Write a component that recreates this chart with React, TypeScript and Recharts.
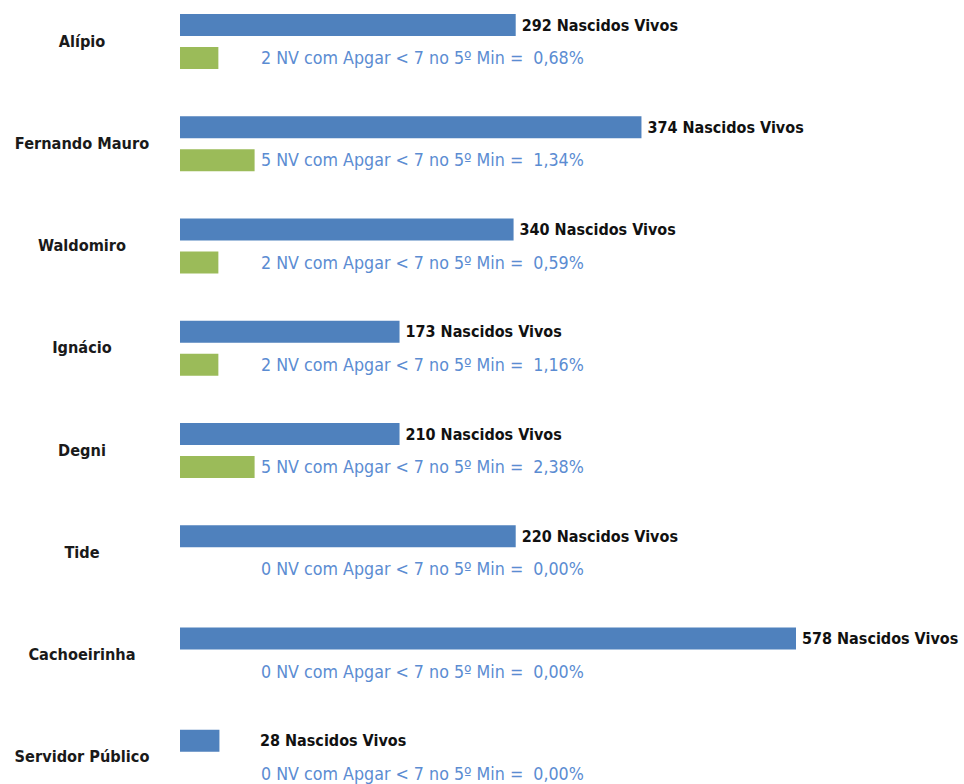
import React from 'react';
import { BarChart, Bar, XAxis, YAxis, LabelList } from 'recharts';

// Categories (left labels)
const categorias = [
  'Alípio',
  'Fernando Mauro',
  'Waldomiro',
  'Ignácio',
  'Degni',
  'Tide',
  'Cachoeirinha',
  'Servidor Público',
];

// Values written in the labels
const nascidosVivos = [292, 374, 340, 173, 210, 220, 578, 28];
const nvApgar = [2, 5, 2, 2, 5, 0, 0, 0];
const percentual = ['0,68%', '1,34%', '0,59%', '1,16%', '2,38%', '0,00%', '0,00%', '0,00%'];

// Bar lengths as drawn in the picture (axis units where Cachoeirinha = 578)
const barraNascidos = [315, 433, 313, 206, 206, 315, 578, 37];
const barraApgar = [36, 70, 36, 36, 70, 0, 0, 0];

const data = categorias.map((categoria, i) => ({
  categoria,
  barraNascidos: barraNascidos[i],
  barraApgar: barraApgar[i],
  rotuloNascidos: `${nascidosVivos[i]} Nascidos Vivos`,
  rotuloApgar: `${nvApgar[i]} NV com Apgar < 7 no 5º Min =  ${percentual[i]}`,
}));

const FONT = "'DejaVu Sans Condensed', 'DejaVu Sans', sans-serif";
const BAR_SIZE = 22;
const BAR_GAP = 11;

const CategoryTick = (props: any) => {
  const { y, payload } = props;
  return (
    <text
      x={82}
      y={y}
      textAnchor="middle"
      dominantBaseline="central"
      fontFamily={FONT}
      fontWeight="bold"
      fontSize={16.2}
      fill="#1a1a1a"
    >
      {payload.value}
    </text>
  );
};

const NascidosLabel = (props: any) => {
  const { x, y, width, height, value } = props;
  const tx = Number(x) + Math.max(Number(width) + 6, 80);
  return (
    <text
      x={tx}
      y={Number(y) + Number(height) / 2}
      dominantBaseline="central"
      fontFamily={FONT}
      fontWeight="bold"
      fontSize={16}
      fill="#111111"
    >
      {value}
    </text>
  );
};

// Drawn from the first series' geometry so that rows with a zero-length green bar keep their text
const ApgarLabel = (props: any) => {
  const { x, y, height, value } = props;
  return (
    <text
      x={Number(x) + 81}
      y={Number(y) + Number(height) + BAR_GAP + BAR_SIZE / 2}
      dominantBaseline="central"
      fontFamily={FONT}
      fontSize={17.7}
      fill="#5b8cd2"
      style={{ whiteSpace: 'pre' }}
    >
      {value}
    </text>
  );
};

export default function App() {
  return (
    <div
      style={{
        position: 'absolute',
        left: 0,
        top: 0,
        width: 964,
        height: 784,
        overflow: 'hidden',
        background: '#ffffff',
      }}
    >
      <div style={{ position: 'absolute', left: 0, top: -10 }}>
        <BarChart
          width={964}
          height={818}
          data={data}
          layout="vertical"
          margin={{ top: 0, right: 168, bottom: 0, left: 0 }}
          barSize={BAR_SIZE}
          barGap={BAR_GAP}
        >
          <XAxis type="number" domain={[0, 578]} hide />
          <YAxis
            type="category"
            dataKey="categoria"
            width={180}
            axisLine={false}
            tickLine={false}
            interval={0}
            tick={<CategoryTick />}
          />
          <Bar dataKey="barraNascidos" fill="#4f81bd" isAnimationActive={false}>
            <LabelList dataKey="rotuloNascidos" content={<NascidosLabel />} />
            <LabelList dataKey="rotuloApgar" content={<ApgarLabel />} />
          </Bar>
          <Bar dataKey="barraApgar" fill="#9bbb59" isAnimationActive={false} />
        </BarChart>
      </div>
    </div>
  );
}
